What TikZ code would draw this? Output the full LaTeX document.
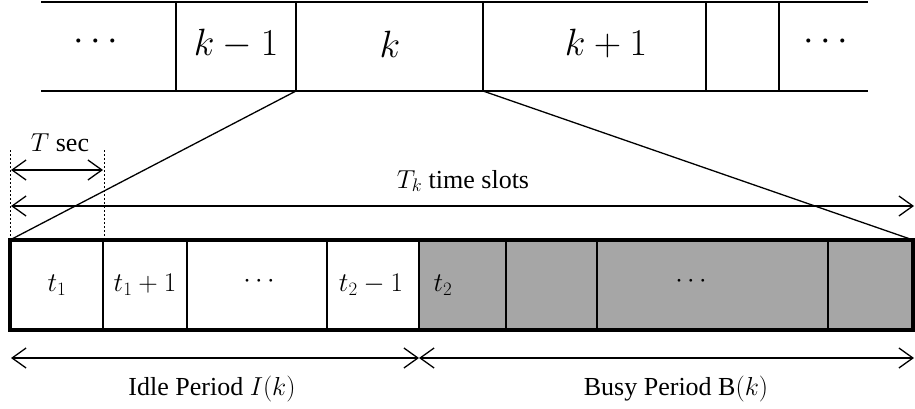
\RequirePackage{fix-cm}
\documentclass[tikz,border=0pt]{standalone}
\usepackage{fontspec}
\setmainfont{Liberation Serif}
\usetikzlibrary{arrows.meta}
\definecolor{busy}{HTML}{A6A6A6}
\begin{document}
\begin{tikzpicture}[x=1pt,y=-1pt,
  thinl/.style={line width=1.3pt},
  midl/.style={line width=2pt},
  thickl/.style={line width=3.5pt},
  dim/.style={line width=1.3pt,{Straight Barb[length=14pt,width=20pt,line width=1.3pt]}-{Straight Barb[length=14pt,width=20pt,line width=1.3pt]}},
  bigt/.style={font=\fontsize{38}{42}\selectfont},
  cellt/.style={font=\fontsize{27}{30}\selectfont},
  lab/.style={font=\fontsize{26}{30}\selectfont}]
\useasboundingbox (0,0) rectangle (915,409);
% top bar
\coordinate (tl) at (41,2);
\coordinate (tr) at (868,2);
\coordinate (bl) at (41,91);
\coordinate (br) at (868,91);
\draw[midl] (tl) -- (tr);
\draw[midl] (bl) -- (br);
\foreach \x/\n in {176/a,296/b,483/c,706/d,779/e}{
  \coordinate (u\n) at (\x,2);
  \coordinate (d\n) at (\x,91);
  \draw[thinl] (u\n) -- (d\n);
}
\node[bigt] (t1) at (96,42) {$\cdots$};
\node[bigt] (t2) at (236,44) {$k-1$};
\node[bigt] (t3) at (390,44) {$k$};
\node[bigt] (t4) at (606,44) {$k+1$};
\node[bigt] (t5) at (826,42) {$\cdots$};
% bottom bar
\coordinate (BL) at (10,240);
\coordinate (BR) at (913,240);
\coordinate (BLb) at (10,330);
\coordinate (BRb) at (913,330);
\coordinate (G1) at (419,240);
\coordinate (G2) at (419,330);
\fill[busy] (G1) rectangle (BRb);
\foreach \x/\n in {103/a,187/b,327/c,506/d,597/e,828/f}{
  \coordinate (p\n) at (\x,240);
  \coordinate (q\n) at (\x,330);
  \draw[thinl] (p\n) -- (q\n);
}
\draw[thinl] (G1) -- (G2);
\draw[thickl] (BL) rectangle (BRb);
\node[cellt] (c1) at (57,285) {$t_1$};
\node[cellt] (c2) at (145,285) {$t_1+1$};
\node[cellt] (c3) at (259,281) {$\cdots$};
\node[cellt] (c4) at (371,285) {$t_2-1$};
\node[cellt] (c5) at (443,285) {$t_2$};
\node[cellt] (c6) at (691,281) {$\cdots$};
% zoom lines
\draw[thinl] (db) -- (BL);
\draw[thinl] (dc) -- (BR);
% dashed guides
\coordinate (g1a) at (10,150);
\coordinate (g2a) at (104,150);
\coordinate (g2b) at (104,240);
\draw[line width=0.6pt,dash pattern=on 2pt off 2pt] (g1a) -- (BL);
\draw[line width=0.6pt,dash pattern=on 2pt off 2pt] (g2a) -- (g2b);
% T sec
\coordinate (ts1) at (11,170);
\coordinate (ts2) at (103,170);
\draw[dim] (ts1) -- (ts2);
\node[lab] (tsec) at (60,143) {$T$ sec};
% Tk
\coordinate (tk1) at (11,206);
\coordinate (tk2) at (914,206);
\draw[dim] (tk1) -- (tk2);
\node[lab] (tk) at (463,181) {$T_k$ time slots};
% periods
\coordinate (i1) at (11,358);
\coordinate (i2) at (419,358);
\coordinate (i3) at (914,358);
\draw[dim] (i1) -- (i2);
\draw[dim] (i2) -- (i3);
\node[lab] (idle) at (212,389) {Idle Period $I(k)$};
\node[lab] (busyl) at (676,389) {Busy Period B$(k)$};
\end{tikzpicture}
\end{document}
